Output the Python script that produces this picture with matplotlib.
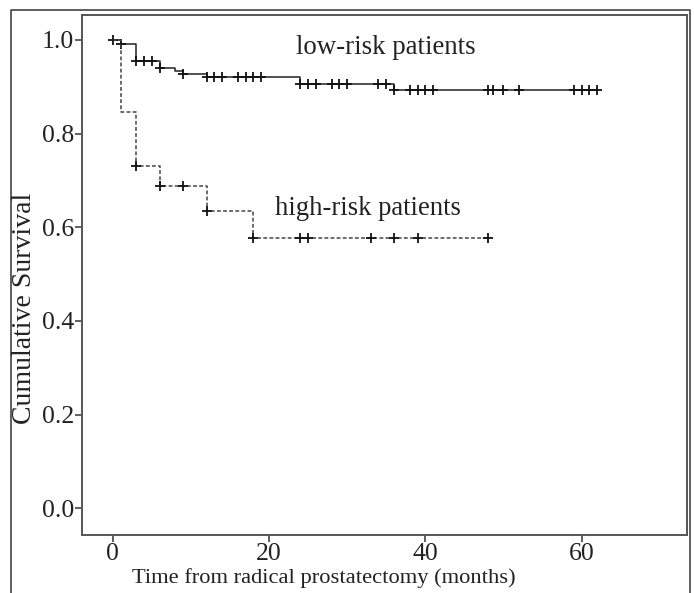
import numpy as np
import matplotlib
matplotlib.use('Agg')
import matplotlib.pyplot as plt
from matplotlib.lines import Line2D

# Kaplan-Meier step data
low_times = [0, 1, 3, 6, 8, 9, 12, 24, 36]
low_surv = [1.0, 0.991, 0.954, 0.940, 0.934, 0.927, 0.920, 0.906, 0.893]
low_end = 62
low_censored = [0, 1, 3, 4, 5, 6, 9, 12, 13, 14, 16, 17, 18, 19,
                24, 25, 26, 28, 29, 30, 34, 35, 36, 38, 39, 40, 41,
                48, 48.7, 50, 52, 59, 60, 61, 62]

high_times = [0, 1, 3, 6, 12, 18]
high_surv = [1.0, 0.846, 0.731, 0.689, 0.635, 0.578]
high_end = 48
high_censored = [3, 6, 9, 12, 18, 24, 25, 33, 36, 39, 48]

x_ticks = [0, 20, 40, 60]
y_ticks = [0.0, 0.2, 0.4, 0.6, 0.8, 1.0]

plt.rcParams['font.family'] = ['Liberation Serif', 'DejaVu Serif']


def surv_at(times, surv, t):
    idx = np.searchsorted(times, t, side='right') - 1
    return np.array(surv)[idx]


fig = plt.figure(figsize=(6.94, 5.93), dpi=100)
ax = fig.add_axes([0.1186, 0.0978, 0.8714, 0.8769])

# low-risk curve
ax.step(low_times + [low_end], low_surv + [low_surv[-1]], where='post',
        color='#222222', linewidth=1.1)
ax.plot(low_censored, surv_at(low_times, low_surv, low_censored), '+',
        color='#111111', markersize=7, markeredgewidth=1.3)

# high-risk curve
ax.step(high_times + [high_end], high_surv + [high_surv[-1]], where='post',
        color='#444444', linewidth=1.1, linestyle=(0, (2.5, 1.5)))
ax.plot(high_censored, surv_at(high_times, high_surv, high_censored), '+',
        color='#111111', markersize=7, markeredgewidth=1.3)

ax.text(34.9, 0.983, 'low-risk patients', fontsize=19.4, ha='center', va='center', color='#222222')
ax.text(32.7, 0.639, 'high-risk patients', fontsize=19.2, ha='center', va='center', color='#222222')

ax.set_xlim(-3.9, 73.5)
ax.set_ylim(-0.057, 1.053)
ax.set_xticks(x_ticks)
ax.set_yticks(y_ticks)
ax.set_yticklabels(['%.1f' % v for v in y_ticks])
ax.tick_params(labelsize=18.5, length=5, width=1.2, color='#444444', labelcolor='#222222', pad=1)
for s in ax.spines.values():
    s.set_color('#555555')
    s.set_linewidth(1.4)

fig.text(324 / 694, 1 - 578 / 593, 'Time from radical prostatectomy (months)',
         fontsize=16.2, ha='center', va='center', color='#222222')
fig.text(25 / 694, 1 - 308 / 593, 'Cumulative Survival', rotation=90,
         fontsize=20, ha='center', va='center', color='#222222')

# outer frame
fx0, fx1, fy1 = 11 / 694, 690 / 694, 1 - 10 / 593
fig.add_artist(Line2D([fx0, fx0, fx1, fx1], [0, fy1, fy1, 0],
                      transform=fig.transFigure, color='#444444', linewidth=1.2))

fig.savefig('out.png', dpi=100)
